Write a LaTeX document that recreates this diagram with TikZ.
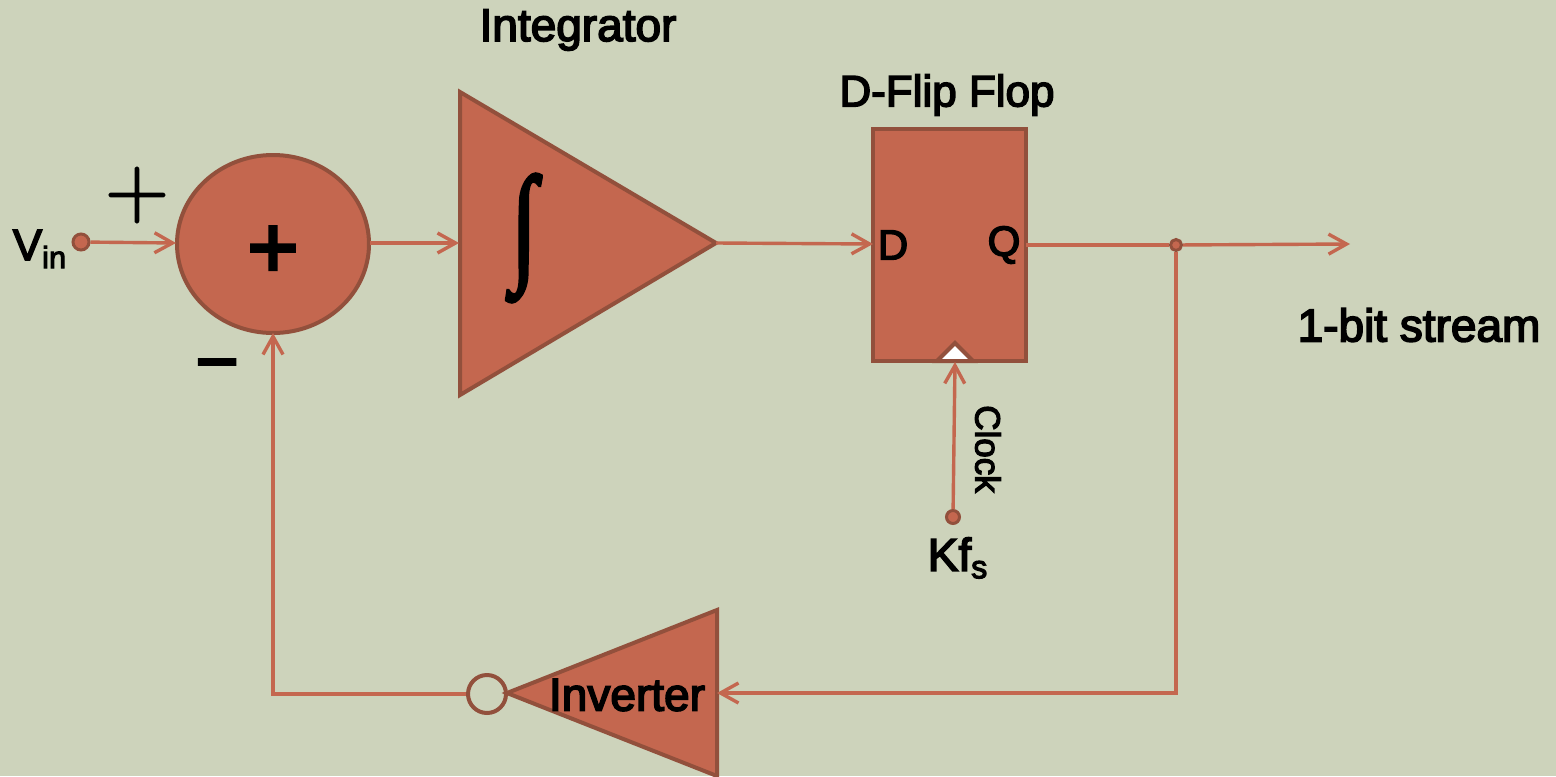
\documentclass[tikz,border=0pt]{standalone}
\usepackage{fontspec}
\setmainfont{Liberation Sans}
\newfontfamily\heavy{Liberation Sans}[FakeBold=3.5]
\newfontfamily\intfont{Liberation Serif}[FakeBold=3]
\newfontfamily\plusfont{Latin Modern Roman}[FakeBold=2]
\usetikzlibrary{arrows.meta,calc}
\definecolor{bgc}{HTML}{CDD3BB}
\definecolor{fillc}{HTML}{C4674F}
\definecolor{edgec}{HTML}{92503C}
\tikzset{x=0.5pt,y=-0.5pt,
  block/.style={draw=edgec,fill=fillc,line width=2pt,line join=miter},
  wire/.style={draw=fillc,line width=1.7pt},
  arrowwire/.style={wire,-{Straight Barb[length=9pt,width=10pt,line width=1.7pt]}},
  terminal/.style={circle,draw=edgec,fill=fillc,line width=1.5pt,minimum size=8pt,inner sep=0pt},
  lbl/.style={font=\heavy\fontsize{23}{27}\selectfont,text=black,inner sep=0pt}
}
\begin{document}
\begin{tikzpicture}
\useasboundingbox (0,0) rectangle (1556,776);
\fill[bgc] (0,0) rectangle (1556,776);
% labels
\node[lbl] (integ) at (578,30) {Integrator};
\node[lbl,font=\heavy\fontsize{22}{26}\selectfont] (dff) at (947,95) {D-Flip Flop};
\node[lbl] (stream) at (1419,325) {1-bit stream};
% summing junction
\draw[block] (273,244) ellipse [x radius=96,y radius=89];
\coordinate (sumL) at (176,243);
\coordinate (sumR) at (370,243);
\coordinate (sumB) at (273,333);
\node[inner sep=0pt,font=\heavy\fontsize{44}{44}\selectfont] (plus) at (273,252) {+};
\node[inner sep=0pt,font=\plusfont\fontsize{44}{44}\selectfont] (plusb) at (137,195) {+};
\node[inner sep=0pt,font=\heavy\fontsize{37}{37}\selectfont] (minus) at (217,373) {−};
% integrator
\coordinate (intA) at (460,92);
\coordinate (intB) at (460,395);
\coordinate (intC) at (716,243);
\draw[block] (intA) -- (intC) -- (intB) -- cycle;
\coordinate (intIn) at (459,243);
\node[xscale=0.72,inner sep=0pt,font=\intfont\fontsize{65}{65}\selectfont] (intsym) at (524,238) {∫};
% flip flop
\node[block,draw,outer sep=0pt,minimum width=76.5pt,minimum height=116pt,inner sep=0pt,anchor=north west] (ff) at (873,129) {};
\coordinate (ffD) at (873,244);
\coordinate (ffQ) at (1026,245);
\coordinate (ffClk) at (955,362);
\draw[draw=edgec,fill=white,line width=2pt] (937,361) -- (955,343) -- (973,361) -- cycle;
\node[lbl,font=\heavy\fontsize{21}{25}\selectfont] (dl) at (893,245) {D};
\node[lbl,font=\heavy\fontsize{21}{25}\selectfont] (ql) at (1004,245) {Q};
% vin
\node[lbl,font=\heavy\fontsize{22}{26}\selectfont] (vinl) at (40,249) {V\textsubscript{in}};
\node[terminal] (vin) at (81,242) {};
% clock
\node[terminal,minimum size=6.5pt] (clk) at (953,517) {};
\node[font=\heavy\fontsize{17.5}{20}\selectfont,rotate=-90,inner sep=0pt] (clocklbl) at (988,449) {Clock};
\node[lbl] (kfs) at (958,558) {Kf\textsubscript{s}};
% junction
\node[terminal,minimum size=5.5pt] (jn) at (1176,245) {};
\coordinate (out) at (1350,244);
\coordinate (cnr) at (1176,693);
% inverter
\coordinate (invA) at (717,610);
\coordinate (invB) at (717,776);
\coordinate (invC) at (507,693);
\draw[block] (invA) -- (invC) -- (invB) -- cycle;
\node[lbl] (invl) at (627,695) {Inverter};
\node[circle,draw=edgec,line width=2pt,minimum size=19pt,inner sep=0pt] (bubble) at (487,694) {};
\coordinate (invIn) at (717,693);
\coordinate (cnl) at (273,694);
% connectors
\draw[arrowwire] (vin) -- (sumL);
\draw[arrowwire] (sumR) -- (intIn);
\draw[arrowwire] (intC) -- (ffD);
\draw[wire] (ffQ) -- (jn);
\draw[arrowwire] (jn) -- (out);
\draw[arrowwire] (jn) -- (cnr) -- (invIn);
\draw[arrowwire] (bubble) -- (cnl) -- (sumB);
\draw[arrowwire] (clk) -- (ffClk);
\end{tikzpicture}
\end{document}
